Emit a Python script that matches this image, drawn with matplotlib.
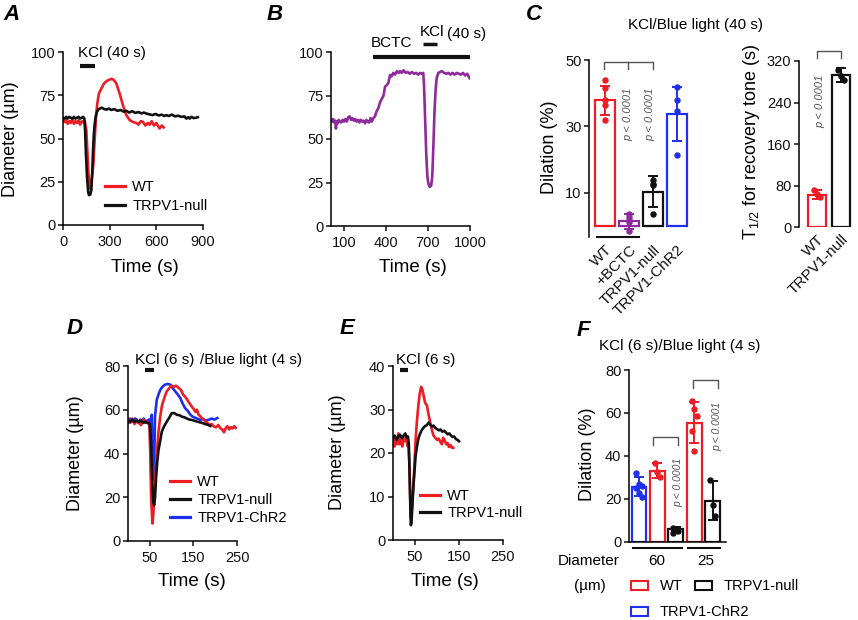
import matplotlib
matplotlib.use('Agg')
import matplotlib.pyplot as plt
from matplotlib.lines import Line2D
from matplotlib.patches import Patch
from matplotlib.transforms import blended_transform_factory

plt.rcParams['font.family'] = ['Liberation Sans', 'DejaVu Sans']
plt.rcParams['mathtext.fontset'] = 'custom'
plt.rcParams['mathtext.rm'] = 'Liberation Sans'
plt.rcParams['mathtext.it'] = 'Liberation Sans:italic'

W, H = 858, 620
RED = '#ee1c25'
BLACK = '#111111'
BLUE = '#1f2ff0'
PURPLE = '#8e2a9a'
GRAY = '#555555'

# ---------------- data ----------------
# Panel A traces (time s, diameter um)
A_wt = [(0, 61), (10, 59.5), (20, 60.5), (30, 58.5), (40, 60), (50, 59), (60, 61), (70, 58.5), (80, 60), (90, 59),
        (100, 60.5), (110, 58), (120, 60), (130, 59.5), (140, 60), (150, 55), (158, 40), (165, 28), (172, 21), (178, 22),
        (185, 27), (195, 35), (204, 50), (212, 62), (220, 70), (231, 76), (247, 79), (265, 82), (285, 83.5), (300, 84),
        (311, 84.5), (325, 84), (343, 81.8), (364, 76), (386, 69), (407, 63.5), (429, 60.6), (450, 59.5), (472, 59), (485, 58),
        (500, 60), (514, 59.6), (530, 57.5), (545, 59), (557, 58), (570, 60), (585, 57.5), (600, 59), (612, 57), (621, 55.8),
        (635, 57.5), (647, 56.4)]
A_null = [(0, 62), (10, 61.5), (20, 62.5), (30, 61.5), (40, 62.5), (50, 62), (60, 61.5), (70, 62.5), (80, 61.5), (90, 62),
          (100, 62.5), (110, 61.5), (120, 62), (130, 62.5), (137, 61.5), (142, 55), (148, 40), (155, 27), (162, 19), (167, 17.3),
          (175, 17.5), (182, 20), (188, 30), (193, 43), (198, 52), (204, 58.7), (211, 63), (218, 65.4), (228, 66.8), (236, 67.3),
          (250, 67.8), (265, 67), (279, 66.7), (295, 67.3), (310, 66.5), (330, 67), (350, 66), (370, 66.5), (390, 65.5), (407, 66),
          (425, 65), (445, 65.8), (465, 64.8), (485, 65.3), (505, 64.5), (520, 65), (536, 64.4), (555, 64), (575, 63.5), (595, 64.2),
          (615, 63.3), (635, 63.8), (650, 63), (664, 63.5), (680, 63), (700, 63.8), (720, 62.8), (740, 63.2), (760, 62.5), (780, 62.8),
          (793, 61.5), (805, 62.3), (815, 61.5), (825, 62.5), (840, 61.8), (855, 62), (866, 62.3)]
A_kcl = (112, 204)

# Panel B trace
B_bctc = [(8, 61), (15, 60), (22, 61.5), (30, 59.5), (38, 60.5), (42, 56), (48, 60), (55, 59), (62, 61), (70, 60),
          (80, 59.5), (90, 61), (100, 60), (110, 61.5), (120, 60), (130, 62.5), (140, 63), (150, 61), (160, 62), (170, 60.5),
          (180, 61.5), (190, 60), (200, 61), (210, 59.5), (220, 61), (230, 60), (240, 60.5), (250, 59), (260, 61), (270, 60),
          (280, 59.5), (290, 62), (298, 60), (310, 62), (321, 63), (333, 66), (345, 67.7), (357, 71), (369, 73), (381, 74.7),
          (393, 80), (405, 81), (416, 82), (429, 86.8), (440, 86), (452, 88), (465, 87), (478, 89), (490, 88), (500, 89),
          (512, 88), (525, 89.5), (540, 88), (555, 88.5), (570, 87.5), (585, 88.5), (600, 87.5), (615, 88), (630, 87), (645, 88),
          (655, 87.5), (666, 88), (672, 80), (680, 60), (688, 40), (696, 28), (704, 24), (712, 22.5), (722, 23), (730, 28),
          (738, 45), (746, 65), (754, 78), (762, 85), (774, 88), (786, 88.5), (798, 89), (815, 88), (830, 87.5), (845, 88),
          (860, 87), (875, 88), (890, 87), (905, 88), (920, 87.5), (935, 87), (950, 88), (965, 86.5), (980, 87.5), (990, 86),
          (997, 85)]
B_bctc_bar = (309, 1000)
B_kcl_bar = (666, 766)

# Panel D traces
D_wt = [(0, 55), (5, 54), (10, 56), (15, 53.5), (20, 55), (25, 54), (30, 53), (35, 55.5), (40, 54), (45, 54.5),
        (49, 53), (51, 40), (53, 20), (56, 8), (58, 12), (60, 20), (62, 26), (66, 40), (70, 50), (74, 57),
        (78, 62), (82, 64.6), (86, 67), (89, 68.4), (95, 70), (100, 71), (105, 70.5), (110, 71), (116, 70), (122, 69),
        (126, 67), (131, 66), (136, 64.5), (141, 63), (146, 61.5), (150, 60.5), (155, 59), (158, 60), (162, 57.7), (166, 57),
        (170, 56), (174, 55.5), (177, 54.6), (182, 54), (187, 53), (192, 53.5), (197, 52.3), (202, 52), (207, 53), (212, 51.5),
        (216, 51), (220, 49.7), (224, 51.5), (228, 52.5), (232, 51), (236, 52), (240, 51.5), (244, 52.5), (247, 51.7)]
D_null = [(0, 55), (5, 54.5), (10, 55.5), (15, 54.5), (20, 55), (25, 54.5), (30, 55), (35, 54), (40, 54.5), (45, 54),
          (50, 53.5), (53, 45), (55, 30), (58, 18), (60, 16.4), (62, 20), (64.6, 29.4), (67, 36), (70, 41.6), (74, 46),
          (77.5, 50), (83, 52.5), (89, 54.6), (95, 56.5), (100, 58.4), (106, 58.5), (112, 57.7), (118, 57.5), (124, 56.8), (130, 56.5),
          (135, 56), (141, 55.5), (147, 55.3), (152, 55), (158, 54.6), (164, 54.3), (170, 54), (176, 53.5), (182, 53.2), (189, 52.6)]
D_chr2 = [(0, 54), (4, 56), (8, 55), (12, 54.5), (16, 56), (20, 55.5), (24, 54), (28, 55.5), (32, 55), (36, 56),
          (40, 54.5), (44, 55), (48, 55.5), (51, 54), (54.5, 57.7), (56, 45), (57.5, 30), (59, 28), (60.5, 40), (62, 57),
          (64, 61), (66, 64.6), (70, 67), (73.8, 69), (79, 70.5), (85, 71.5), (91, 71.8), (97, 71.5), (102, 70), (108, 68.5),
          (114, 67), (120, 65.3), (125, 63), (131, 60.7), (137, 59.5), (142, 58), (147, 57), (152, 56.5), (158, 56), (166, 55.4),
          (172, 55.8), (178, 55), (185, 55.4), (192, 56), (198, 55.5), (205, 56.2)]
D_kcl = (39, 60)

# Panel E traces
E_wt = [(0, 23), (3, 21.5), (6, 23.5), (9, 22), (12, 24.5), (15, 22), (18, 23), (21, 21.5), (24, 23.5), (27, 22.7),
        (30, 23.5), (33, 21.6), (35, 22), (37, 18), (39, 10), (40.6, 5), (43, 7), (46, 11.8), (49, 18), (51.5, 23.3),
        (54.5, 27.5), (57.7, 31), (60.5, 33.5), (64, 35.2), (67, 34.5), (70, 33), (73, 31.5), (77, 31), (80.5, 29), (84.6, 27),
        (88, 25.5), (92, 24), (96, 23.5), (100, 23), (104, 23.3), (108, 22.5), (111, 22), (114, 23.5), (117, 23), (121, 22),
        (124, 22.3), (127, 21.4), (131, 21.8), (134, 21.2), (137, 21.2)]
E_null = [(0, 23.5), (4, 24), (8, 23), (12, 23.8), (16, 24.2), (20, 23.4), (24, 24), (28, 24.5), (31, 23.5), (34, 23.8),
          (36, 22), (38, 14), (39.5, 7), (40.6, 3.4), (42, 4), (44, 8), (46, 11.8), (49, 16), (51.5, 19.5), (54.5, 21.5),
          (57.7, 23.3), (61, 24.3), (65, 25.2), (69, 25.8), (73, 26.2), (77, 26.4), (81, 27), (85, 26.5), (88, 26.1), (92, 26.3),
          (96, 25.8), (100, 25.5), (104, 25.2), (108, 25.4), (112, 24.9), (116, 25.1), (119.6, 24.8), (124, 24.3), (128, 24.5), (132, 24),
          (135, 23.7), (139, 23.8), (143, 23.2), (147, 23), (150, 22.7)]
E_kcl = (15, 33)

# Panel C (left): dilation %
C_groups = ['WT', '+BCTC', 'TRPV1-null', 'TRPV1-ChR2']
C_mean = [37.8, 1.3, 10.3, 33.7]
C_sd = [4.5, 2.2, 4.7, 8.2]
C_points = [[44, 41.5, 38, 36.5, 31.8],
            [3.5, 2.6, 1.8, 1.0, -1.5],
            [13.8, 12.6, 12.2, 3.5],
            [42, 38, 34.5, 21.3]]

# Panel C (right): T1/2 for recovery tone (s)
T_groups = ['WT', 'TRPV1-null']
T_mean = [62.5, 293]
T_sd = [9, 13]
T_points = [[71, 63, 57], [303, 292, 284]]

# Panel F: dilation %
F_groups = ['TRPV1-ChR2', 'WT', 'TRPV1-null', 'WT', 'TRPV1-null']
F_diam = ['60', '25']
F_mean = [25.6, 33.1, 5.9, 55.5, 19.1]
F_sd = [4.6, 3.7, 0.8, 9.7, 8.9]
F_points = [[31.9, 26.9, 26.0, 24.9, 22.8, 20.7],
            [36.8, 32.6, 30.3],
            [6.2, 5.7, 5.1, 3.8],
            [65.6, 61.7, 58.5, 51.7, 42.2],
            [28.7, 17.1, 11.9]]

# ---------------- helpers ----------------
fig = plt.figure(figsize=(W / 100, H / 100), dpi=100)
TICK_FS = 10.5


def add_ax(l, t, r, b):
    return fig.add_axes([l / W, 1 - b / H, (r - l) / W, (b - t) / H])


def ft(x, y, s, **kw):
    return fig.text(x / W, 1 - y / H, s, **kw)


def style(ax, bottom=True):
    for s in ['top', 'right']:
        ax.spines[s].set_visible(False)
    ax.spines['left'].set_linewidth(1.1)
    ax.spines['bottom'].set_linewidth(1.1)
    if not bottom:
        ax.spines['bottom'].set_visible(False)
    ax.tick_params(direction='out', length=3.5, width=1.1, labelsize=TICK_FS, pad=2, colors='#111111')
    ax.tick_params(axis='x', pad=3.5)
    ax.patch.set_alpha(0)


def xy(tr):
    return [p[0] for p in tr], [p[1] for p in tr]


def line_legend(ax, items, x, y, ls):
    hs = [Line2D([], [], color=c, lw=2.3) for c, _ in items]
    ax.legend(hs, [l for _, l in items], loc='upper left',
              bbox_to_anchor=(x / W, 1 - y / H), bbox_transform=fig.transFigure,
              frameon=False, borderpad=0, borderaxespad=0, fontsize=10.5,
              handlelength=1.37, handletextpad=0.5, labelspacing=ls)


def treat_bar(ax, span, yv, lw=3):
    ax.plot(list(span), [yv, yv], color=BLACK, lw=lw, solid_capstyle='butt', clip_on=False)


def bar_panel(ax, xs, means, sds, pts, colors, width, jit=0.0, ms=3.6):
    for i, (m, s, p, c) in enumerate(zip(means, sds, pts, colors)):
        ax.bar(xs[i], m, width=width, facecolor='white', edgecolor=c, linewidth=1.6, zorder=2)
        n = len(p)
        offs = [((k % 3) - 1) * jit for k in range(n)]
        ax.plot([xs[i] + o for o in offs], p, 'o', color=c, ms=ms, zorder=4, clip_on=False)
        ax.errorbar(xs[i], m, yerr=s, color=c, capsize=3.5, elinewidth=1.4, capthick=1.4, zorder=3)


LW = 1.9

# ---------------- Panel A ----------------
axA = add_ax(63, 52, 203, 225)
style(axA)
t, y = xy(A_wt)
axA.plot(t, y, color=RED, lw=LW)
t, y = xy(A_null)
axA.plot(t, y, color=BLACK, lw=LW)
axA.set_xlim(0, 900)
axA.set_ylim(0, 100)
axA.set_xticks([0, 300, 600, 900])
axA.set_yticks([0, 25, 50, 75, 100])
treat_bar(axA, A_kcl, 92, lw=3)
line_legend(axA, [(RED, 'WT'), (BLACK, 'TRPV1-null')], 105, 180, 0.37)
ft(112, 53, 'KCl (40 s)', ha='center', va='center', fontsize=11)
ft(11, 139, 'Diameter (µm)', rotation=90, ha='center', va='center', fontsize=13)
ft(145, 268, 'Time (s)', ha='center', va='center', fontsize=13.5)

# ---------------- Panel B ----------------
axB = add_ax(331, 52, 470, 226)
style(axB)
t, y = xy(B_bctc)
axB.plot(t, y, color=PURPLE, lw=LW)
axB.set_xlim(7, 1000)
axB.set_ylim(0, 100)
axB.set_xticks([100, 400, 700, 1000])
axB.set_yticks([0, 25, 50, 75, 100])
treat_bar(axB, B_bctc_bar, 97, lw=3)
treat_bar(axB, B_kcl_bar, 104.5, lw=2.5)
ft(392, 43, 'BCTC', ha='center', va='center', fontsize=11)
ft(432, 32, 'KCl', ha='center', va='center', fontsize=11)
ft(467, 34, '(40 s)', ha='center', va='center', fontsize=11)
ft(413, 268, 'Time (s)', ha='center', va='center', fontsize=13.5)

# ---------------- Panel C left ----------------
axC = add_ax(589, 60, 689, 237.3)
style(axC, bottom=False)
xs = list(range(len(C_groups)))
bar_panel(axC, xs, C_mean, C_sd, C_points, [RED, PURPLE, BLACK, BLUE], 0.8, jit=0.0)
axC.set_xlim(-0.67, 3.5)
axC.set_ylim(-3.5, 50)
axC.set_yticks([10, 30, 50])
axC.set_xticks(xs)
axC.set_xticklabels(C_groups, rotation=45, ha='right', rotation_mode='anchor', fontsize=11)
axC.tick_params(axis='x', length=0, pad=4)
axC.plot([-0.35, 1.43], [-3.5, -3.5], color=BLACK, lw=1.5, clip_on=False)
axC.plot([-0.05, -0.05, 2.0, 2.0], [47.3, 49.4, 49.4, 47.3], color=GRAY, lw=1, clip_on=False)
axC.plot([0.95, 0.95], [49.4, 47.3], color=GRAY, lw=1, clip_on=False)
ft(628.3, 114.5, 'p < 0.0001', rotation=90, ha='center', va='center', fontsize=8, style='italic', color=GRAY)
ft(650.7, 114.5, 'p < 0.0001', rotation=90, ha='center', va='center', fontsize=8, style='italic', color=GRAY)
ft(549, 147, 'Dilation (%)', rotation=90, ha='center', va='center', fontsize=13)
ft(696, 25, 'KCl/Blue light (40 s)', ha='center', va='center', fontsize=11)

# ---------------- Panel C right ----------------
axT = add_ax(799, 61, 853, 227)
style(axT, bottom=False)
xs = list(range(len(T_groups)))
bar_panel(axT, xs, T_mean, T_sd, T_points, [RED, BLACK], 0.78, jit=0.12)
axT.set_xlim(-0.75, 1.5)
axT.set_ylim(0, 320)
axT.set_yticks([0, 80, 160, 240, 320])
axT.set_xticks(xs)
axT.set_xticklabels(T_groups, rotation=45, ha='right', rotation_mode='anchor', fontsize=11)
axT.tick_params(axis='x', length=0, pad=4)
axT.plot([0, 0, 1, 1], [325.6, 339, 339, 325.6], color=GRAY, lw=1, clip_on=False)
ft(820, 101, 'p < 0.0001', rotation=90, ha='center', va='center', fontsize=8, style='italic', color=GRAY)
ft(752, 142, 'T$_{\\mathregular{1/2}}$ for recovery tone (s)', rotation=90, ha='center', va='center', fontsize=13)

# ---------------- Panel D ----------------
axD = add_ax(128, 366, 237, 541)
style(axD)
t, y = xy(D_chr2)
axD.plot(t, y, color=BLUE, lw=LW)
t, y = xy(D_wt)
axD.plot(t, y, color=RED, lw=LW)
t, y = xy(D_null)
axD.plot(t, y, color=BLACK, lw=LW)
axD.set_xlim(0, 250)
axD.set_ylim(0, 80)
axD.set_xticks([50, 150, 250])
axD.set_yticks([0, 20, 40, 60, 80])
treat_bar(axD, D_kcl, 78, lw=3)
line_legend(axD, [(RED, 'WT'), (BLACK, 'TRPV1-null'), (BLUE, 'TRPV1-ChR2')], 170, 475.5, 0.27)
ft(165, 360, 'KCl (6 s)', ha='center', va='center', fontsize=11)
ft(200, 360, '/Blue light (4 s)', ha='left', va='center', fontsize=11)
ft(76, 453, 'Diameter (µm)', rotation=90, ha='center', va='center', fontsize=13)
ft(192, 581, 'Time (s)', ha='center', va='center', fontsize=13.5)

# ---------------- Panel E ----------------
axE = add_ax(393, 366, 503, 540)
style(axE)
t, y = xy(E_wt)
axE.plot(t, y, color=RED, lw=LW)
t, y = xy(E_null)
axE.plot(t, y, color=BLACK, lw=LW)
axE.set_xlim(0, 250)
axE.set_ylim(0, 40)
axE.set_xticks([50, 150, 250])
axE.set_yticks([0, 10, 20, 30, 40])
treat_bar(axE, E_kcl, 39, lw=3)
line_legend(axE, [(RED, 'WT'), (BLACK, 'TRPV1-null')], 420, 489.5, 0.17)
ft(426, 360, 'KCl (6 s)', ha='center', va='center', fontsize=11)
ft(337, 452, 'Diameter (µm)', rotation=90, ha='center', va='center', fontsize=13)
ft(445, 581, 'Time (s)', ha='center', va='center', fontsize=13.5)

# ---------------- Panel F ----------------
axF = add_ax(629, 370, 726, 541.5)
style(axF)
xs = list(range(len(F_groups)))
F_colors = [BLUE, RED, BLACK, RED, BLACK]
bar_panel(axF, xs, F_mean, F_sd, F_points, F_colors, 0.8, jit=0.14)
axF.set_xlim(-0.54, 4.73)
axF.set_ylim(0, 80)
axF.set_yticks([0, 20, 40, 60, 80])
axF.set_xticks([])
trF = blended_transform_factory(axF.transData, axF.transAxes)
axF.plot([-0.33, 2.32], [-0.04, -0.04], color=BLACK, lw=1.5, transform=trF, clip_on=False)
axF.plot([2.68, 4.4], [-0.04, -0.04], color=BLACK, lw=1.5, transform=trF, clip_on=False)
axF.plot([0.78, 0.78, 2.13, 2.13], [45.1, 48.7, 48.7, 45.1], color=GRAY, lw=1, clip_on=False)
axF.plot([2.95, 2.95, 4.31, 4.31], [71.7, 75.5, 75.5, 71.7], color=GRAY, lw=1, clip_on=False)
ft(678.3, 482.5, 'p < 0.0001', rotation=90, ha='center', va='center', fontsize=7.5, style='italic', color=GRAY)
ft(717.3, 426.7, 'p < 0.0001', rotation=90, ha='center', va='center', fontsize=7.5, style='italic', color=GRAY)
ft(657, 561, F_diam[0], ha='center', va='center', fontsize=11)
ft(706, 561, F_diam[1], ha='center', va='center', fontsize=11)
ft(620, 561, 'Diameter', ha='right', va='center', fontsize=11)
ft(590, 586, '(µm)', ha='center', va='center', fontsize=11)
ft(587, 454, 'Dilation (%)', rotation=90, ha='center', va='center', fontsize=13)
ft(599, 346, 'KCl (6 s)/Blue light (4 s)', ha='left', va='center', fontsize=11)

patch_kw = dict(facecolor='white', linewidth=1.5)
leg1 = fig.legend([Patch(edgecolor=RED, **patch_kw), Patch(edgecolor=BLACK, **patch_kw)], ['WT', 'TRPV1-null'],
                  loc='upper left', bbox_to_anchor=(631 / W, 1 - 579.5 / H), ncol=2, frameon=False,
                  borderpad=0, borderaxespad=0, fontsize=10.5, handlelength=1.16, handleheight=0.55,
                  handletextpad=0.82, columnspacing=0.84)
leg2 = fig.legend([Patch(edgecolor=BLUE, **patch_kw)], ['TRPV1-ChR2'],
                  loc='upper left', bbox_to_anchor=(631 / W, 1 - 605.5 / H), frameon=False,
                  borderpad=0, borderaxespad=0, fontsize=10.5, handlelength=1.16, handleheight=0.55,
                  handletextpad=0.82)

# ---------------- panel letters ----------------
for lx, ly, s in [(3, 15, 'A'), (267, 15, 'B'), (526, 15, 'C'), (67, 329, 'D'), (340, 329, 'E'), (577, 330, 'F')]:
    ft(lx, ly, s, ha='left', va='center', fontsize=16, fontweight='bold', style='italic')

fig.savefig('out.png', dpi=100)
